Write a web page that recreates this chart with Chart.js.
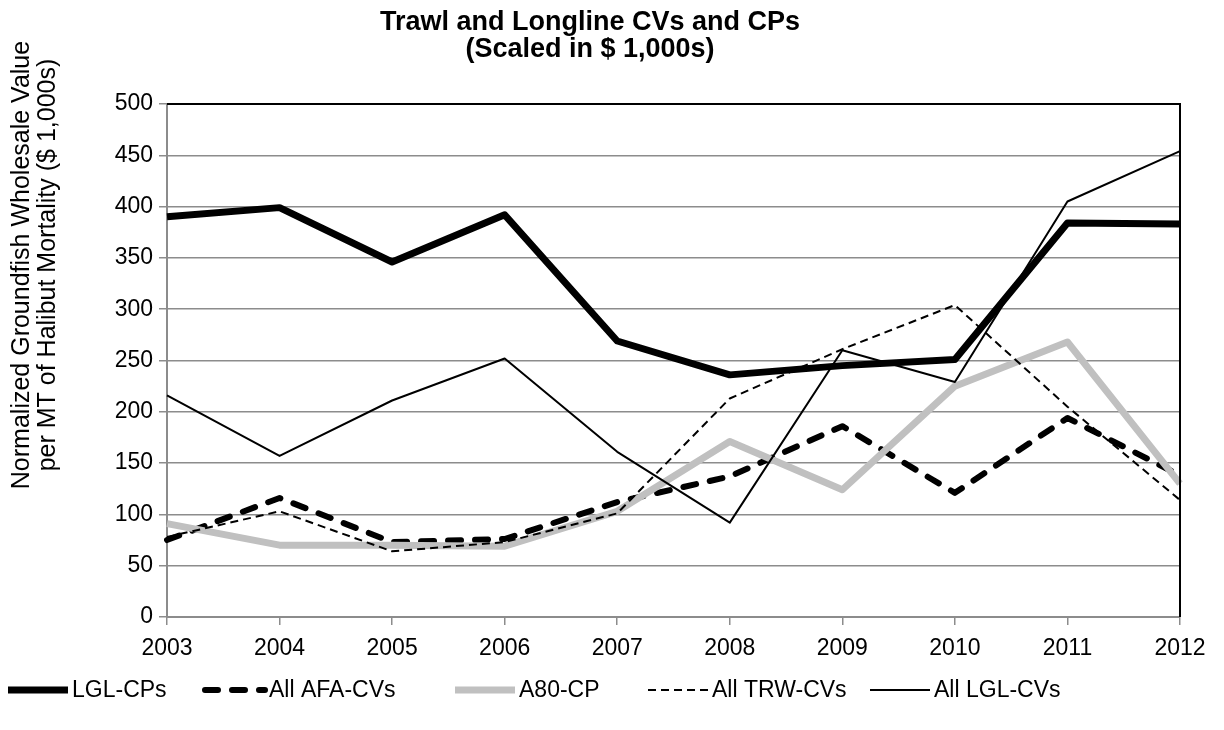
<!DOCTYPE html>
<html>
<head>
<meta charset="utf-8">
<script src="https://cdn.jsdelivr.net/npm/chart.js@4/dist/chart.umd.min.js"></script>
<style>
  html, body { margin: 0; padding: 0; background: #fff; }
  #wrap { width: 1224px; height: 730px; position: relative; }
</style>
</head>
<body>
<div id="wrap"><canvas id="c" width="1224" height="730"></canvas></div>
<script>
// ---- data ----
const years = ['2003', '2004', '2005', '2006', '2007', '2008', '2009', '2010', '2011', '2012'];
const lglCPs = [390, 399, 346, 392, 269, 236, 245, 251, 384, 383];
const allAfaCVs = [75, 116, 73, 76, 112, 137, 186, 121, 194, 138];
const a80CP = [91, 70, 70, 69, 103, 171, 124, 225, 268, 130];
const allTrwCVs = [78, 103, 64, 73, 101, 213, 261, 304, 205, 114];
const allLglCVs = [216, 157, 211, 252, 161, 92, 260, 229, 405, 454];
const seriesNames = ['LGL-CPs', 'All AFA-CVs', 'A80-CP', 'All TRW-CVs', 'All LGL-CVs'];
const yMin = 0, yMax = 500, yStep = 50;
const titleLines = ['Trawl and Longline CVs and CPs', '(Scaled in $ 1,000s)'];
const yTitleLines = ['Normalized Groundfish Wholesale Value', 'per MT of Halibut Mortality ($ 1,000s)'];

const FONT = "'Liberation Sans', Arial, sans-serif";
const GRID = '#8c8c8c';

const frameBorder = {
  id: 'frameBorder',
  afterDatasetsDraw(chart) {
    const a = chart.chartArea, ctx = chart.ctx;
    ctx.save();
    ctx.strokeStyle = '#000';
    ctx.lineWidth = 2;
    ctx.beginPath();
    ctx.moveTo(a.left, a.top);
    ctx.lineTo(a.right, a.top);
    ctx.lineTo(a.right, a.bottom);
    ctx.stroke();
    ctx.restore();
  }
};

const yAxisTitle = {
  id: 'yAxisTitle',
  afterDraw(chart) {
    const ctx = chart.ctx;
    ctx.save();
    ctx.font = "25px " + FONT;
    ctx.fillStyle = '#000';
    ctx.textAlign = 'center';
    ctx.textBaseline = 'middle';
    const xs = [22, 48];
    yTitleLines.forEach((t, i) => {
      ctx.save();
      ctx.translate(xs[i], 265);
      ctx.rotate(-Math.PI / 2);
      ctx.fillText(t, 0, 0);
      ctx.restore();
    });
    ctx.restore();
  }
};

const bottomLegend = {
  id: 'bottomLegend',
  afterDraw(chart) {
    const ctx = chart.ctx;
    ctx.save();
    ctx.font = "23px " + FONT;
    ctx.textBaseline = 'middle';
    ctx.textAlign = 'left';
    const y = 690;
    const sample = 60, gapText = 4;
    const starts = [8, 205, 455, 648, 870];
    chart.data.datasets.forEach((ds, i) => {
      const x = starts[i];
      ctx.beginPath();
      ctx.setLineDash(ds.borderDash || []);
      ctx.lineWidth = ds.borderWidth;
      ctx.strokeStyle = ds.borderColor;
      ctx.lineCap = ds.borderCapStyle || 'butt';
      ctx.moveTo(x, y);
      ctx.lineTo(x + sample, y);
      ctx.stroke();
      ctx.setLineDash([]);
      ctx.fillStyle = '#000';
      ctx.fillText(ds.label, x + sample + gapText, y + 1);
    });
    ctx.restore();
  }
};

const datasets = [
  { label: seriesNames[0], data: lglCPs, borderColor: '#000000', borderWidth: 7, order: 4, borderCapStyle: 'butt' },
  { label: seriesNames[1], data: allAfaCVs, borderColor: '#000000', borderWidth: 6, borderDash: [13, 14], borderCapStyle: 'round', order: 3 },
  { label: seriesNames[2], data: a80CP, borderColor: '#c0c0c0', borderWidth: 7, order: 2, borderCapStyle: 'butt' },
  { label: seriesNames[3], data: allTrwCVs, borderColor: '#000000', borderWidth: 2, borderDash: [8, 5], order: 1, borderCapStyle: 'butt' },
  { label: seriesNames[4], data: allLglCVs, borderColor: '#000000', borderWidth: 2, order: 0, borderCapStyle: 'butt' }
].map(d => Object.assign({ pointRadius: 0, pointHoverRadius: 0, tension: 0, fill: false, borderJoinStyle: 'round' }, d));

new Chart(document.getElementById('c'), {
  type: 'line',
  data: { labels: years, datasets },
  options: {
    responsive: false,
    animation: false,
    events: [],
    layout: { padding: { left: 0, right: 44, top: 0, bottom: 63 } },
    plugins: {
      legend: { display: false },
      tooltip: { enabled: false },
      title: {
        display: true,
        text: titleLines,
        color: '#000',
        font: { family: FONT, size: 27, weight: 'bold', lineHeight: 1.0 },
        padding: { top: 9, bottom: 41 }
      }
    },
    scales: {
      x: {
        type: 'category',
        offset: false,
        grid: { display: true, drawOnChartArea: false, drawTicks: true, tickLength: 8, color: GRID, lineWidth: 1.5 },
        border: { display: true, color: GRID, width: 2 },
        ticks: { color: '#000', font: { family: FONT, size: 23 }, padding: 10, maxRotation: 0, autoSkip: false },
        afterFit(s) { s.height = 50; }
      },
      y: {
        min: yMin, max: yMax,
        ticks: { stepSize: yStep, color: '#000', font: { family: FONT, size: 23 }, padding: 6 },
        grid: { color: GRID, lineWidth: 1.5, drawTicks: true, tickLength: 8 },
        border: { display: true, color: GRID, width: 2 },
        title: { display: false },
        afterFit(s) { s.width = 167; }
      }
    }
  },
  plugins: [frameBorder, yAxisTitle, bottomLegend]
});
</script>
</body>
</html>
